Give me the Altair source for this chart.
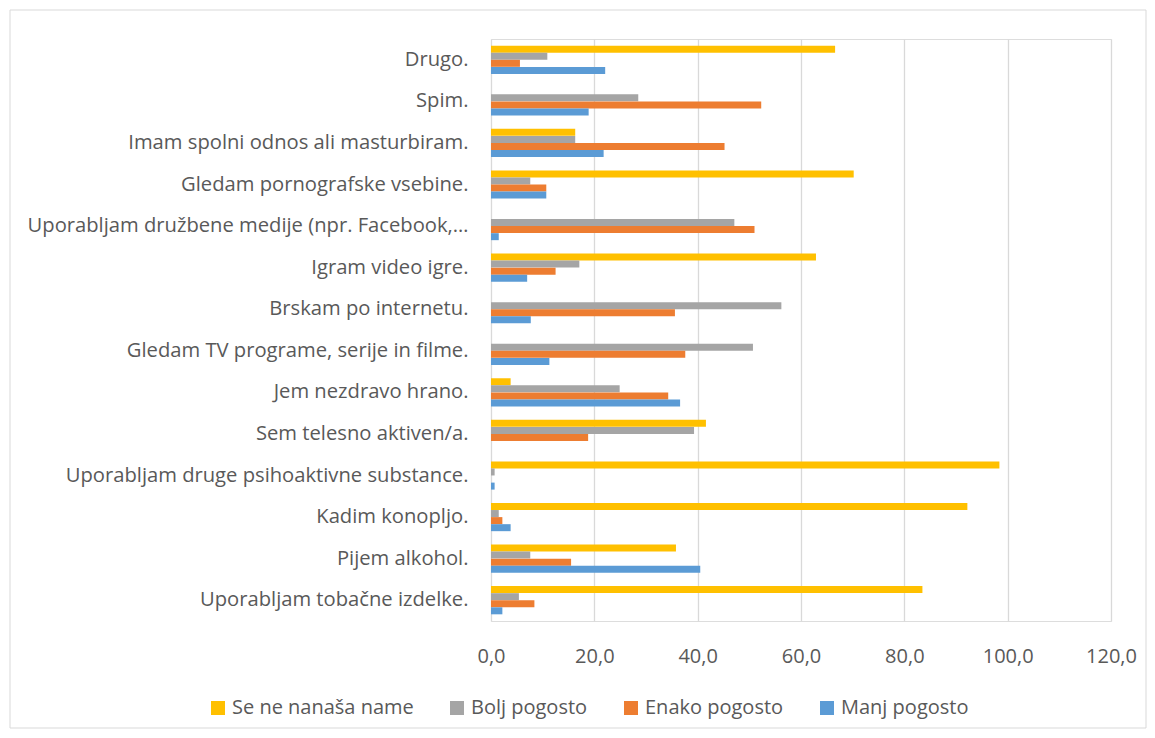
import altair as alt
import pandas as pd

categories = [
    "Drugo.",
    "Spim.",
    "Imam spolni odnos ali masturbiram.",
    "Gledam pornografske vsebine.",
    "Uporabljam družbene medije (npr. Facebook,…",
    "Igram video igre.",
    "Brskam po internetu.",
    "Gledam TV programe, serije in filme.",
    "Jem nezdravo hrano.",
    "Sem telesno aktiven/a.",
    "Uporabljam druge psihoaktivne substance.",
    "Kadim konopljo.",
    "Pijem alkohol.",
    "Uporabljam tobačne izdelke.",
]

series = ["Se ne nanaša name", "Bolj pogosto", "Enako pogosto", "Manj pogosto"]
colors = ["#FFC000", "#A5A5A5", "#ED7D31", "#5B9BD5"]

se_ne_nanasa = [66.6, 0.0, 16.3, 70.2, 0.0, 62.9, 0.0, 0.0, 3.8, 41.6, 98.4, 92.2, 35.8, 83.5]
bolj_pogosto = [10.9, 28.5, 16.3, 7.6, 47.1, 17.1, 56.2, 50.7, 24.9, 39.3, 0.7, 1.5, 7.6, 5.4]
enako_pogosto = [5.6, 52.3, 45.2, 10.7, 51.0, 12.5, 35.6, 37.6, 34.3, 18.8, 0.0, 2.2, 15.5, 8.4]
manj_pogosto = [22.1, 18.9, 21.8, 10.7, 1.5, 7.0, 7.7, 11.3, 36.6, 0.0, 0.7, 3.8, 40.5, 2.2]

tick_values = [0, 20, 40, 60, 80, 100, 120]

rows = []
for s, vals in zip(series, [se_ne_nanasa, bolj_pogosto, enako_pogosto, manj_pogosto]):
    for c, v in zip(categories, vals):
        rows.append({"kategorija": c, "serija": s, "vrednost": v})
df = pd.DataFrame(rows)

FONT = "Open Sans"
TXT = "#595959"
GRID = "#D9D9D9"

bars = alt.Chart(df).mark_bar(size=7).encode(
    y=alt.Y(
        "kategorija:N",
        sort=categories,
        scale=alt.Scale(paddingInner=0.32, paddingOuter=0.16),
        axis=alt.Axis(
            title=None, domain=False, ticks=False, grid=False,
            labelFont=FONT, labelFontSize=20.2, labelColor=TXT,
            labelPadding=23, labelLimit=480,
        ),
    ),
    yOffset=alt.YOffset("serija:N", sort=series, scale=alt.Scale(paddingInner=0, paddingOuter=0)),
    x=alt.X(
        "vrednost:Q",
        scale=alt.Scale(domain=[0, 120], nice=False),
        axis=alt.Axis(
            title=None, domain=False, ticks=False, grid=True,
            gridColor=GRID, gridWidth=1.3, values=tick_values,
            labelExpr="replace(format(datum.value, '.1f'), '.', ',')",
            labelFont=FONT, labelFontSize=20, labelColor=TXT, labelPadding=25,
            labelFlush=False,
        ),
    ),
    color=alt.Color(
        "serija:N",
        sort=series,
        scale=alt.Scale(domain=series, range=colors),
        legend=alt.Legend(
            title=None, orient="none", direction="horizontal",
            legendX=-283, legendY=659,
            symbolType="square", symbolSize=196, symbolStrokeWidth=0,
            labelFont=FONT, labelFontSize=20, labelColor=TXT, labelLimit=400,
            columnPadding=33, symbolOffset=0, labelOffset=4,
        ),
    ),
)

frame = alt.Chart(alt.Data(values=[{"a": 1}])).mark_rect(
    filled=False, stroke=GRID, strokeWidth=1
).encode(
    x=alt.value(-481), x2=alt.value(655), y=alt.value(-29), y2=alt.value(689)
)

chart = alt.layer(frame, bars).properties(
    width=620,
    height=582,
    autosize=alt.AutoSizeParams(type="none"),
    padding={"left": 483, "top": 31, "right": 36, "bottom": 108},
).configure_view(stroke=None).configure(background="white")

chart.save("out.html", embed_options={"renderer": "svg", "actions": False})
